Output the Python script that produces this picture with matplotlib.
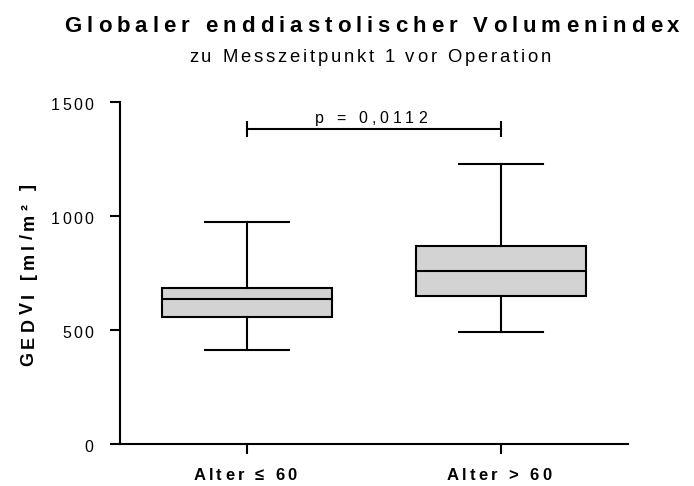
import matplotlib
matplotlib.use('Agg')
import matplotlib.pyplot as plt
from matplotlib.transforms import offset_copy

plt.rcParams['font.family'] = ['Liberation Sans', 'DejaVu Sans']

groups = ['Alter ≤ 60', 'Alter > 60']
whislo = [412, 490]
q1 = [558, 648]
med = [636, 757]
q3 = [686, 870]
whishi = [972, 1229]
yticks = [0, 500, 1000, 1500]
p_label = 'p = 0,0112'
bracket_y = 1380

fig = plt.figure(figsize=(6.94, 4.86), dpi=100)
ax = fig.add_axes([120 / 694, 42 / 486, 508 / 694, 342 / 486])
renderer = fig.canvas.get_renderer()


def ink_width(s, **kw):
    t = fig.text(0, 0, s, **kw)
    w = t.get_window_extent(renderer).width
    t.remove()
    return w


def tracked_text(x, y, s, transform, track, ha='center', va='baseline',
                 rotation=0, dx=0, dy=0, **kw):
    # no letter-spacing in matplotlib, so set the glyphs one at a time
    widths = []
    for ch in s:
        if ch == ' ':
            widths.append(ink_width('H H', **kw) - ink_width('HH', **kw))
        else:
            widths.append(ink_width(ch, **kw))
    total = sum(widths) + track * (len(s) - 1)
    pos = {'left': 0, 'center': -total / 2, 'right': -total}[ha]
    for ch, w in zip(s, widths):
        if ch != ' ':
            if rotation == 90:
                off = offset_copy(transform, fig=fig, x=dx, y=dy + pos, units='dots')
            else:
                off = offset_copy(transform, fig=fig, x=dx + pos, y=dy, units='dots')
            fig.text(x, y, ch, transform=off, ha='left', va=va,
                     rotation=rotation, rotation_mode='anchor', **kw)
        pos += w + track


stats = [dict(whislo=lo, q1=a, med=m, q3=b, whishi=hi, fliers=[])
         for lo, a, m, b, hi in zip(whislo, q1, med, q3, whishi)]
ax.bxp(stats, positions=[1, 2], widths=0.67, capwidths=0.33,
       patch_artist=True, showfliers=False,
       boxprops=dict(facecolor='#d3d3d3', edgecolor='black', linewidth=1.5),
       medianprops=dict(color='black', linewidth=1.5),
       whiskerprops=dict(color='black', linewidth=1.5),
       capprops=dict(color='black', linewidth=1.5))

# significance bracket
ax.plot([1, 2], [bracket_y, bracket_y], color='black', lw=1.5,
        marker='|', ms=11, mew=1.5, clip_on=False)
tracked_text(1.5, bracket_y, p_label, ax.transData, 4, dx=-3, dy=6, fontsize=11.5)

ax.set_xlim(0.5, 2.5)
ax.set_ylim(0, 1500)
ax.set_xticks([1, 2])
ax.set_xticklabels([])
ax.set_yticks(yticks)
ax.set_yticklabels([])
ax.tick_params(direction='out', length=7.5, width=1.5, color='black')
for side in ['top', 'right']:
    ax.spines[side].set_visible(False)
for side in ['left', 'bottom']:
    ax.spines[side].set_linewidth(1.5)

for v in yticks:
    tracked_text(0, v, str(v), ax.get_yaxis_transform(), 2.2, ha='right',
                 dx=-26.7, dy=-7.5, fontsize=11.5)
for i, g in enumerate(groups):
    tracked_text(i + 1, 0, g, ax.get_xaxis_transform(), 3.2, dx=-2, dy=-36,
                 fontsize=12, fontweight='bold')

tracked_text(0.048, 0.434, 'GEDVI [ml/m² ]', fig.transFigure, 4.3, rotation=90,
             fontsize=13, fontweight='bold')
tracked_text(0.536, 0.9348, 'Globaler enddiastolischer Volumenindex',
             fig.transFigure, 5, fontsize=16, fontweight='bold')
tracked_text(0.533, 0.873, 'zu Messzeitpunkt 1 vor Operation',
             fig.transFigure, 2.8, fontsize=13.3)

fig.savefig('out.png', dpi=100)
